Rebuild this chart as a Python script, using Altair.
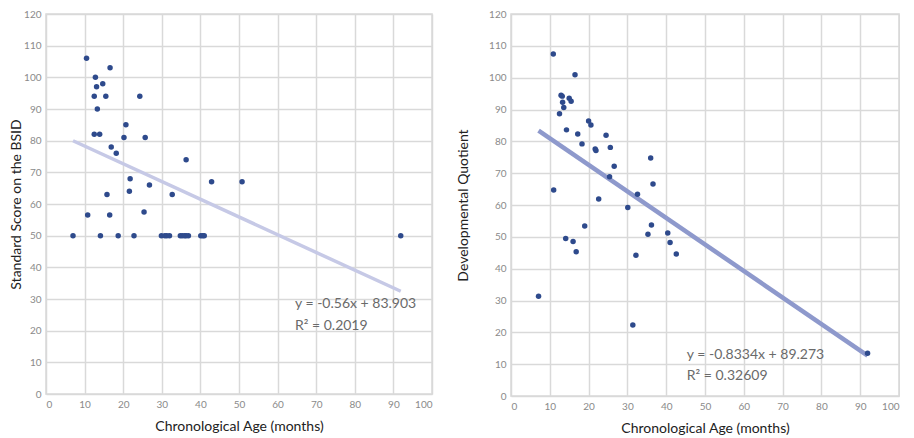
import pandas as pd
import altair as alt

# ── left panel: BSID standard score vs age
bsid_age = [10.5, 16.6, 12.8, 13.1, 14.7, 12.5, 15.5, 24.3, 13.3, 12.5,
            13.9, 20.7, 20.2, 25.7, 16.9, 18.2, 36.3, 21.8, 26.8, 21.6,
            15.8, 32.7, 42.9, 50.8, 10.8, 16.5, 25.4,
            7.0, 14.1, 18.7, 22.8, 29.9, 30.8, 31.3, 32.0,
            34.8, 35.3, 35.9, 36.3, 36.9, 40.1, 40.6, 41.0, 91.9]
bsid_score = [106, 103, 100, 97, 98, 94, 94, 94, 90, 82,
              82, 85, 81, 81, 78, 76, 74, 68, 66, 64,
              63, 63, 67, 67, 56.5, 56.5, 57.5,
              50, 50, 50, 50, 50, 50, 50, 50,
              50, 50, 50, 50, 50, 50, 50, 50, 50]
bsid_slope, bsid_icpt = -0.56, 83.903
bsid_eq = ["y = -0.56x + 83.903", "R\u00b2 = 0.2019"]

# ── right panel: developmental quotient vs age
dq_age = [10.9, 16.5, 12.9, 13.2, 15.0, 15.5, 13.3, 13.6, 12.5, 14.3,
          20.0, 20.6, 17.2, 24.5, 18.3, 21.7, 21.9, 25.6, 26.6, 36.0,
          25.4, 36.6, 11.0, 32.6, 22.6, 30.1,
          19.0, 14.1, 16.0, 16.8, 7.1, 36.2, 35.3, 40.4, 41.0, 42.6,
          32.2, 31.4, 91.9]
dq_score = [107.4, 100.9, 94.5, 94.2, 93.5, 92.6, 92.3, 90.6, 88.7, 83.6,
            86.4, 85.1, 82.3, 81.9, 79.2, 77.6, 77.1, 78.1, 72.2, 74.8,
            68.9, 66.6, 64.7, 63.4, 61.9, 59.2,
            53.4, 49.5, 48.5, 45.3, 31.3, 53.7, 50.8, 51.2, 48.2, 44.6,
            44.2, 22.3, 13.4]
dq_slope, dq_icpt = -0.8334, 89.273
dq_eq = ["y = -0.8334x + 89.273", "R\u00b2 = 0.32609"]

FONT = "Lato"
DOT = "#2e4a8c"


def panel(ages, scores, slope, icpt, eq, eq_x, eq_y, ytitle,
          line_color, line_w, w, h, title_pad):
    pts = pd.DataFrame({"age": ages, "score": scores})
    x_end = [min(ages), max(ages)]
    fit = pd.DataFrame({"age": x_end, "score": [slope * a + icpt for a in x_end]})
    notes = pd.DataFrame({"age": [eq_x, eq_x], "score": eq_y, "txt": eq})

    xs = alt.Scale(domain=[0, 100], nice=False)
    ys = alt.Scale(domain=[0, 120], nice=False)
    xax = alt.Axis(values=list(range(0, 101, 10)), title="Chronological Age (months)",
                   titleFont=FONT, titleFontSize=14, titleFontWeight="normal",
                   titleColor="#222", titlePadding=10, labelOverlap=False)
    yax = alt.Axis(values=list(range(0, 121, 10)), title=ytitle,
                   titleFont=FONT, titleFontSize=14, titleFontWeight="normal",
                   titleColor="#222", titlePadding=title_pad, labelOverlap=False)
    X = alt.X("age:Q", scale=xs, axis=xax)
    Y = alt.Y("score:Q", scale=ys, axis=yax)

    dots = alt.Chart(pts).mark_circle(size=30, color=DOT, opacity=1).encode(x=X, y=Y)
    line = alt.Chart(fit).mark_line(color=line_color, strokeWidth=line_w).encode(x=X, y=Y)
    text = alt.Chart(notes).mark_text(align="left", baseline="middle", font=FONT,
                                      fontSize=14, color="#6a6a6a").encode(
        x=X, y=Y, text="txt:N"
    )
    return alt.layer(line, dots, text).properties(width=w, height=h)


left = panel(bsid_age, bsid_score, bsid_slope, bsid_icpt, bsid_eq,
             64.5, [28.5, 21.5], "Standard Score on the BSID",
             "#c6c9e6", 3.5, 386, 380, 0)
right = panel(dq_age, dq_score, dq_slope, dq_icpt, dq_eq,
              45.3, [13.0, 6.3], "Developmental Quotient",
              "#8e99cc", 4.5, 388, 382, 18)

chart = alt.hconcat(left, right, spacing=22).configure_view(
    stroke="#d9d9d9", strokeWidth=1.5
).configure_axis(
    grid=True, gridColor="#d9d9d9", gridWidth=1.5, domain=False, ticks=False,
    labelFont=FONT, labelFontSize=10, labelColor="#8a8a8a", labelPadding=5
).properties(padding=0)

chart.save("out.html", embed_options={"renderer": "svg", "actions": False})
